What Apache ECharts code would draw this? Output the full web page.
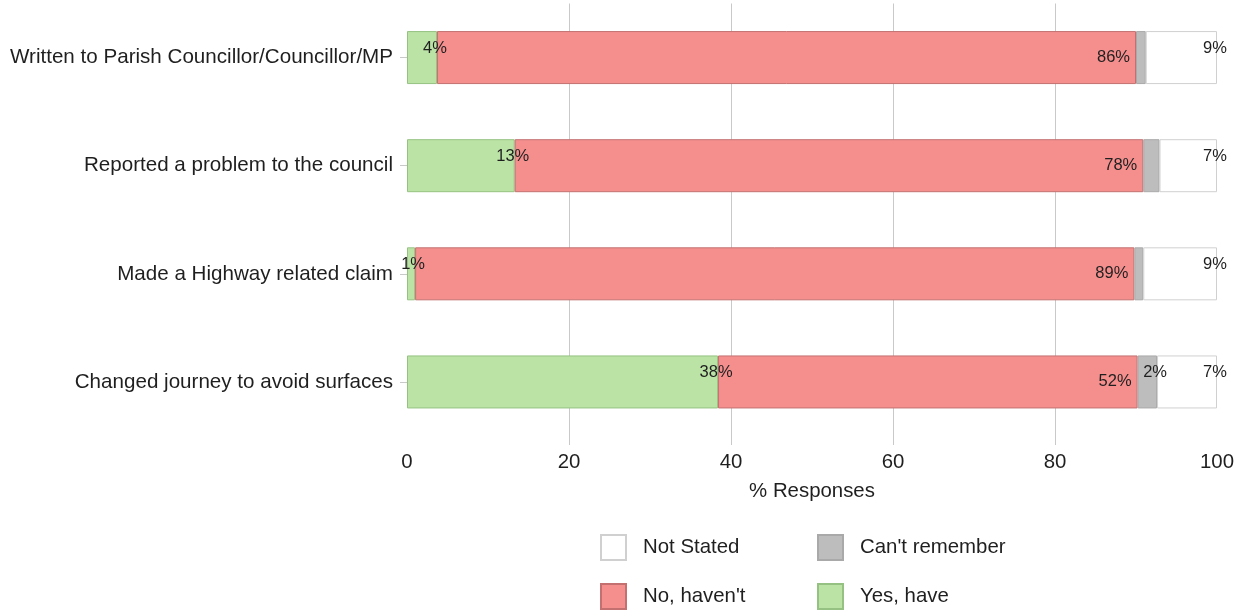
<!DOCTYPE html>
<html>
<head>
<meta charset="utf-8">
<script src="https://cdn.jsdelivr.net/npm/echarts@6/dist/echarts.min.js"></script>
<style>
  html, body { margin: 0; padding: 0; background: #ffffff; }
  #chart { width: 1244px; height: 613px; }
</style>
</head>
<body>
<div id="chart"></div>
<script>
// Survey actions, % of responses per answer
const categories = [
  'Written to Parish Councillor/Councillor/MP',
  'Reported a problem to the council',
  'Made a Highway related claim',
  'Changed journey to avoid surfaces'
];
const yesHave      = [3.7, 13.3, 1.0, 38.4];
const noHavent     = [86.3, 77.6, 88.8, 51.8];
const cantRemember = [1.2, 2.0, 1.1, 2.4];
const notStated    = [8.8, 7.1, 9.1, 7.4];
const xTicks = [0, 20, 40, 60, 80, 100];

const FONT = '"Liberation Sans", Arial, sans-serif';
const TEXT = '#1f1f1f';
const GRID = '#c9c9c9';

function pct(minShown) {
  return function (p) {
    return p.value >= minShown ? Math.round(p.value) + '%' : '';
  };
}

// labels sitting on the right end of a segment, a little above its middle
const endLabel = (minShown) => ({
  show: true,
  position: ['100%', '33%'],
  offset: [-2, 0],
  align: 'center',
  verticalAlign: 'middle',
  fontFamily: FONT,
  fontSize: 16.5,
  color: TEXT,
  formatter: pct(minShown)
});

const chart = echarts.init(document.getElementById('chart'), null, { renderer: 'canvas' });

const legendBase = {
  icon: 'rect',
  itemWidth: 25,
  itemHeight: 25,
  padding: 0,
  orient: 'horizontal',
  selectedMode: false,
  textStyle: { fontFamily: FONT, fontSize: 20.4, color: TEXT, padding: [0, 0, 0, 12] }
};

chart.setOption({
  animation: false,
  backgroundColor: '#ffffff',
  grid: { left: 407, right: 27, top: 3.5, bottom: 177, containLabel: false },
  legend: [
    Object.assign({}, legendBase, { left: 600, top: 534, data: ['Not Stated'] }),
    Object.assign({}, legendBase, { left: 817, top: 534, data: ["Can't remember"] }),
    Object.assign({}, legendBase, { left: 600, top: 583, data: ["No, haven't"] }),
    Object.assign({}, legendBase, { left: 817, top: 583, data: ['Yes, have'] })
  ],
  xAxis: {
    type: 'value',
    min: xTicks[0],
    max: xTicks[xTicks.length - 1],
    interval: 20,
    name: '% Responses',
    nameLocation: 'middle',
    nameGap: 45,
    nameTextStyle: { fontFamily: FONT, fontSize: 20.4, color: TEXT },
    axisLine: { show: false },
    axisTick: {
      show: true,
      length: 9,
      customValues: xTicks.slice(1, -1),
      lineStyle: { color: GRID, width: 1 }
    },
    axisLabel: { margin: 16, fontFamily: FONT, fontSize: 20.4, color: TEXT },
    splitLine: {
      show: true,
      lineStyle: { color: GRID, width: 1 }
    }
  },
  yAxis: {
    type: 'category',
    data: categories,
    inverse: true,
    axisLine: { show: false },
    axisTick: { show: true, alignWithLabel: true, length: 7, lineStyle: { color: GRID } },
    axisLabel: { margin: 14, fontFamily: FONT, fontSize: 20.6, color: TEXT },
    splitLine: { show: false }
  },
  series: [
    {
      name: 'Yes, have', type: 'bar', stack: 'all', barWidth: 53, data: yesHave,
      itemStyle: { color: '#bce3a6', borderColor: '#95c282', borderWidth: 1 },
      label: endLabel(0.5)
    },
    {
      name: "No, haven't", type: 'bar', stack: 'all', barWidth: 53, data: noHavent,
      itemStyle: { color: '#f48f8e', borderColor: '#c47070', borderWidth: 1 },
      label: {
        show: true, position: 'insideRight', distance: 6,
        fontFamily: FONT, fontSize: 16.5, color: TEXT, formatter: pct(0.5)
      }
    },
    {
      name: "Can't remember", type: 'bar', stack: 'all', barWidth: 53, data: cantRemember,
      itemStyle: { color: '#bdbdbd', borderColor: '#a9a9a9', borderWidth: 1 },
      label: endLabel(2.2)
    },
    {
      name: 'Not Stated', type: 'bar', stack: 'all', barWidth: 53, data: notStated,
      itemStyle: { color: '#ffffff', borderColor: '#d0d0d0', borderWidth: 1 },
      label: endLabel(0.5)
    }
  ]
});
</script>
</body>
</html>
